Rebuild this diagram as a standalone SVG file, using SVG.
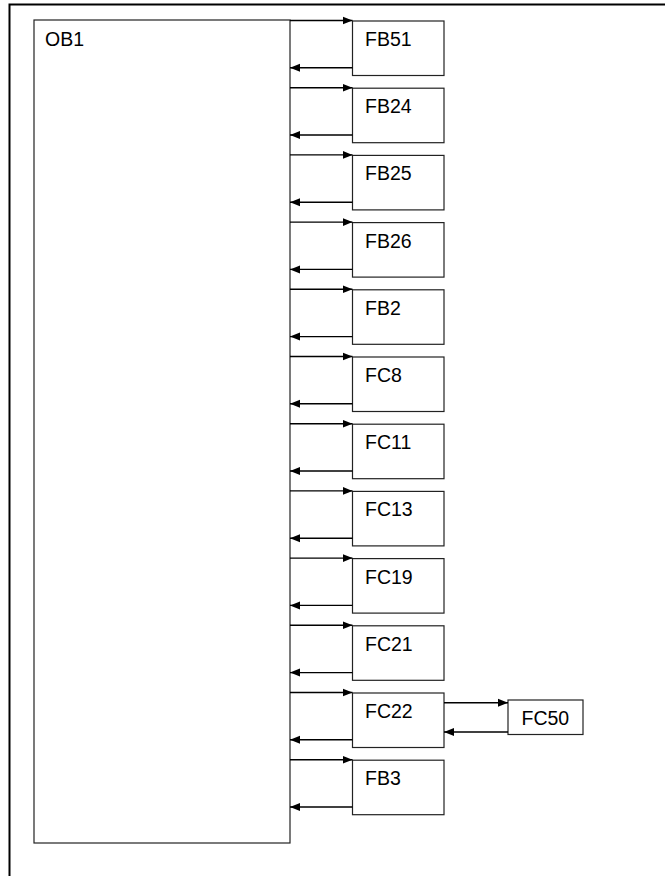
<svg xmlns="http://www.w3.org/2000/svg" width="665" height="876" viewBox="0 0 665 876">
<style>
.box{fill:#fff;stroke:#222;stroke-width:1.2}
.lbl{font-family:"Liberation Sans",Arial,sans-serif;font-size:19.5px;fill:#000}
.con{fill:none;stroke:#000;stroke-width:1.4}
</style>
<defs>
<marker id="ah" markerUnits="userSpaceOnUse" markerWidth="10" markerHeight="10" viewBox="0 0 10 10" refX="10" refY="5" orient="auto">
<path d="M0,1 L10,5 L0,9 Z" fill="#000"/>
</marker>
</defs>
<rect width="665" height="876" fill="#fff"/>
<path d="M9.5,876 V4.5 H665" fill="none" stroke="#000" stroke-width="2"/>
<g id="OB1"><rect class="box" x="34" y="20" width="256" height="823"/><text class="lbl" x="45" y="46">OB1</text></g>
<g id="FB51"><rect class="box" x="352.5" y="21" width="91.5" height="54.5"/><text class="lbl" x="365" y="46">FB51</text></g>
<g id="FB24"><rect class="box" x="352.5" y="88.2" width="91.5" height="54.5"/><text class="lbl" x="365" y="113.2">FB24</text></g>
<g id="FB25"><rect class="box" x="352.5" y="155.4" width="91.5" height="54.5"/><text class="lbl" x="365" y="180.4">FB25</text></g>
<g id="FB26"><rect class="box" x="352.5" y="222.6" width="91.5" height="54.5"/><text class="lbl" x="365" y="247.6">FB26</text></g>
<g id="FB2"><rect class="box" x="352.5" y="289.8" width="91.5" height="54.5"/><text class="lbl" x="365" y="314.8">FB2</text></g>
<g id="FC8"><rect class="box" x="352.5" y="357" width="91.5" height="54.5"/><text class="lbl" x="365" y="382">FC8</text></g>
<g id="FC11"><rect class="box" x="352.5" y="424.2" width="91.5" height="54.5"/><text class="lbl" x="365" y="449.2">FC11</text></g>
<g id="FC13"><rect class="box" x="352.5" y="491.4" width="91.5" height="54.5"/><text class="lbl" x="365" y="516.4">FC13</text></g>
<g id="FC19"><rect class="box" x="352.5" y="558.6" width="91.5" height="54.5"/><text class="lbl" x="365" y="583.6">FC19</text></g>
<g id="FC21"><rect class="box" x="352.5" y="625.8" width="91.5" height="54.5"/><text class="lbl" x="365" y="650.8">FC21</text></g>
<g id="FC22"><rect class="box" x="352.5" y="693" width="91.5" height="54.5"/><text class="lbl" x="365" y="718">FC22</text></g>
<g id="FB3"><rect class="box" x="352.5" y="760.2" width="91.5" height="54.5"/><text class="lbl" x="365" y="785.2">FB3</text></g>
<g id="FC50"><rect class="box" x="508" y="700" width="75" height="34.5"/><text class="lbl" x="521.5" y="725">FC50</text></g>
<g id="connectors">
<path class="con" marker-end="url(#ah)" d="M290,20.5 H352.5"/><path class="con" marker-end="url(#ah)" d="M352.5,67.8 H290"/>
<path class="con" marker-end="url(#ah)" d="M290,87.7 H352.5"/><path class="con" marker-end="url(#ah)" d="M352.5,135 H290"/>
<path class="con" marker-end="url(#ah)" d="M290,154.9 H352.5"/><path class="con" marker-end="url(#ah)" d="M352.5,202.2 H290"/>
<path class="con" marker-end="url(#ah)" d="M290,222.1 H352.5"/><path class="con" marker-end="url(#ah)" d="M352.5,269.4 H290"/>
<path class="con" marker-end="url(#ah)" d="M290,289.3 H352.5"/><path class="con" marker-end="url(#ah)" d="M352.5,336.6 H290"/>
<path class="con" marker-end="url(#ah)" d="M290,356.5 H352.5"/><path class="con" marker-end="url(#ah)" d="M352.5,403.8 H290"/>
<path class="con" marker-end="url(#ah)" d="M290,423.7 H352.5"/><path class="con" marker-end="url(#ah)" d="M352.5,471 H290"/>
<path class="con" marker-end="url(#ah)" d="M290,490.9 H352.5"/><path class="con" marker-end="url(#ah)" d="M352.5,538.2 H290"/>
<path class="con" marker-end="url(#ah)" d="M290,558.1 H352.5"/><path class="con" marker-end="url(#ah)" d="M352.5,605.4 H290"/>
<path class="con" marker-end="url(#ah)" d="M290,625.3 H352.5"/><path class="con" marker-end="url(#ah)" d="M352.5,672.6 H290"/>
<path class="con" marker-end="url(#ah)" d="M290,692.5 H352.5"/><path class="con" marker-end="url(#ah)" d="M352.5,739.8 H290"/>
<path class="con" marker-end="url(#ah)" d="M290,759.7 H352.5"/><path class="con" marker-end="url(#ah)" d="M352.5,807 H290"/>
<path class="con" marker-end="url(#ah)" d="M444,702.7 H508"/><path class="con" marker-end="url(#ah)" d="M508,732 H444"/>
</g>
</svg>
